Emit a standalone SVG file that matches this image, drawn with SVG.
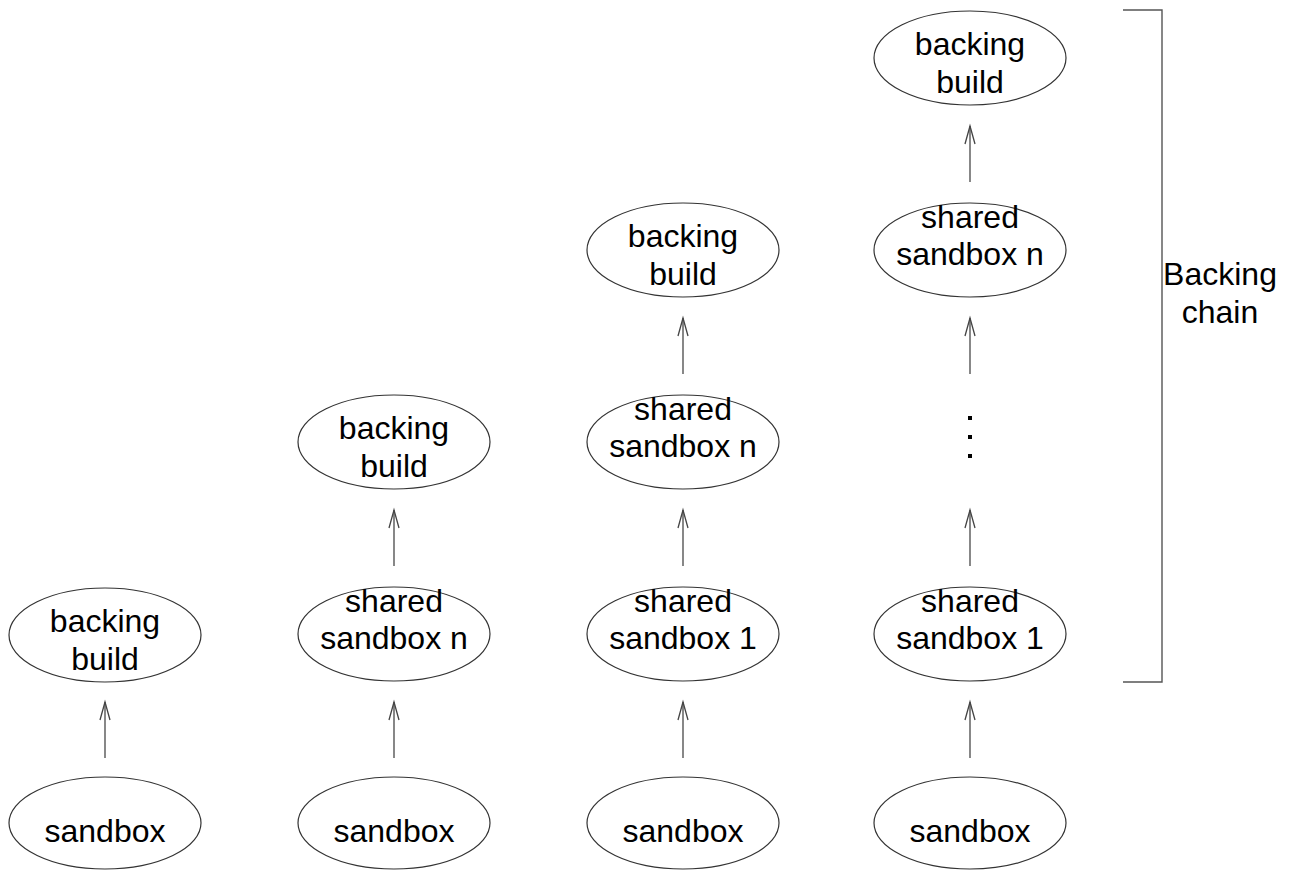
<svg xmlns="http://www.w3.org/2000/svg" width="1296" height="875" viewBox="0 0 1296 875">
  <style>
    .node ellipse { fill: #ffffff; stroke: #333333; stroke-width: 1.2; }
    .node text, .label { font-family: "Liberation Sans", Arial, sans-serif; font-size: 32px; fill: #000000; text-anchor: middle; }
    .edge { stroke: #555555; stroke-width: 1.4; fill: none; marker-end: url(#open); }
    .bracket { stroke: #555555; stroke-width: 1.4; fill: none; }
    .dot { fill: #000000; }
  </style>
  <defs>
    <!-- open V arrowhead; tip sits on the line end -->
    <marker id="open" markerUnits="userSpaceOnUse" viewBox="-22 -7 24 14" refX="0" refY="0" markerWidth="24" markerHeight="14" orient="auto" overflow="visible">
      <path d="M-18,-5 L0,0 L-18,5" fill="none" stroke="#444444" stroke-width="1.3"/>
    </marker>
  </defs>
  <rect width="1296" height="875" fill="#ffffff"/>

  <!-- column 1 -->
  <g id="c1-backing" class="node"><ellipse cx="105" cy="635" rx="96" ry="47"/><text x="105" y="632">backing</text><text x="105" y="670">build</text></g>
  <g id="c1-sandbox" class="node"><ellipse cx="105" cy="823" rx="96" ry="46"/><text x="105" y="842">sandbox</text></g>

  <!-- column 2 -->
  <g id="c2-backing" class="node"><ellipse cx="394" cy="442" rx="96" ry="47"/><text x="394" y="439">backing</text><text x="394" y="477">build</text></g>
  <g id="c2-shared-n" class="node"><ellipse cx="394" cy="634" rx="96" ry="47"/><text x="394" y="612">shared</text><text x="394" y="649">sandbox n</text></g>
  <g id="c2-sandbox" class="node"><ellipse cx="394" cy="823" rx="96" ry="46"/><text x="394" y="842">sandbox</text></g>

  <!-- column 3 -->
  <g id="c3-backing" class="node"><ellipse cx="683" cy="250" rx="96" ry="47"/><text x="683" y="247">backing</text><text x="683" y="285">build</text></g>
  <g id="c3-shared-n" class="node"><ellipse cx="683" cy="442" rx="96" ry="47"/><text x="683" y="420">shared</text><text x="683" y="457">sandbox n</text></g>
  <g id="c3-shared-1" class="node"><ellipse cx="683" cy="634" rx="96" ry="47"/><text x="683" y="612">shared</text><text x="683" y="649">sandbox 1</text></g>
  <g id="c3-sandbox" class="node"><ellipse cx="683" cy="823" rx="96" ry="46"/><text x="683" y="842">sandbox</text></g>

  <!-- column 4 -->
  <g id="c4-backing" class="node"><ellipse cx="970" cy="58" rx="96" ry="47"/><text x="970" y="55">backing</text><text x="970" y="93">build</text></g>
  <g id="c4-shared-n" class="node"><ellipse cx="970" cy="250" rx="96" ry="47"/><text x="970" y="228">shared</text><text x="970" y="265">sandbox n</text></g>
  <g id="c4-ellipsis">
    <rect class="dot" x="968" y="416" width="4" height="4"/>
    <rect class="dot" x="968" y="435" width="4" height="4"/>
    <rect class="dot" x="968" y="454" width="4" height="4"/>
  </g>
  <g id="c4-shared-1" class="node"><ellipse cx="970" cy="634" rx="96" ry="47"/><text x="970" y="612">shared</text><text x="970" y="649">sandbox 1</text></g>
  <g id="c4-sandbox" class="node"><ellipse cx="970" cy="823" rx="96" ry="46"/><text x="970" y="842">sandbox</text></g>

  <!-- connectors -->
  <g id="edges">
    <line class="edge" x1="105" y1="758" x2="105" y2="702"/>
    <line class="edge" x1="394" y1="758" x2="394" y2="702"/>
    <line class="edge" x1="394" y1="566" x2="394" y2="510"/>
    <line class="edge" x1="683" y1="758" x2="683" y2="702"/>
    <line class="edge" x1="683" y1="566" x2="683" y2="510"/>
    <line class="edge" x1="683" y1="374" x2="683" y2="318"/>
    <line class="edge" x1="970" y1="758" x2="970" y2="702"/>
    <line class="edge" x1="970" y1="566" x2="970" y2="510"/>
    <line class="edge" x1="970" y1="374" x2="970" y2="318"/>
    <line class="edge" x1="970" y1="182" x2="970" y2="126"/>
  </g>

  <!-- bracket marking the chain -->
  <g id="backing-chain">
    <path class="bracket" d="M1123,10 H1162 V682 H1123"/>
    <text class="label" x="1220" y="285">Backing</text>
    <text class="label" x="1220" y="323">chain</text>
  </g>
</svg>
